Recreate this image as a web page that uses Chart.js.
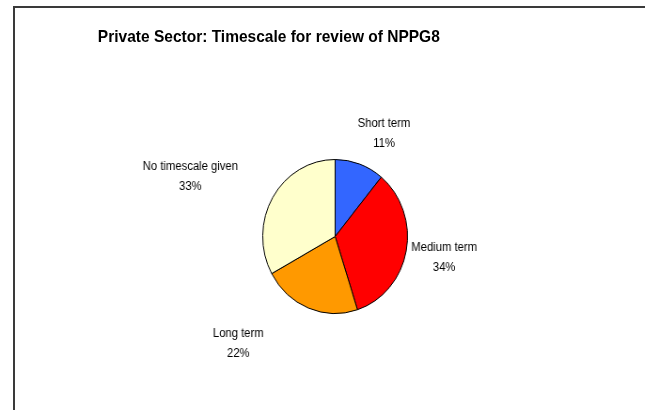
<!DOCTYPE html>
<html>
<head>
<meta charset="utf-8">
<script src="https://cdn.jsdelivr.net/npm/chart.js@4.4.1/dist/chart.umd.min.js"></script>
<style>
  body { margin: 0; background: #fff; }
  #wrap { position: relative; width: 645px; height: 410px; overflow: hidden; }
  #frame { position: absolute; left: 13px; top: 6px; width: 700px; height: 500px; border: 2px solid #3a3a3a; box-sizing: border-box; }
  /* the original chart is a little squeezed sideways, so draw wider and compress */
  #squeeze { position: absolute; left: 0; top: 0; width: 686px; height: 410px; transform: scaleX(0.94); transform-origin: 0 0; }
  #title { position: absolute; left: 0; top: 27px; width: 572px; text-align: center;
           font: bold 16.5px "Liberation Sans", Arial, sans-serif; color: #000; }
  canvas { position: absolute; left: 0; top: 0; }
</style>
</head>
<body>
<div id="wrap">
  <div id="frame"></div>
  <div id="squeeze">
    <div id="title">Private Sector: Timescale for review of NPPG8</div>
    <canvas id="myChart" width="686" height="410"></canvas>
  </div>
</div>
<script>
let categorias = ["Short term", "Medium term", "Long term", "No timescale given"];
let valores = [11, 34, 22, 33];
let colores = ["#3366FF", "#FF0000", "#FF9900", "#FFFFCC"];

// where each label sits, relative to the pie centre
let labelOffsets = [[52, -103], [116, 21], [-103, 107], [-154, -60]];

let pieLabels = {
    id: "pieLabels",
    afterDatasetsDraw(chart) {
        let ctx = chart.ctx;
        let arcs = chart.getDatasetMeta(0).data;
        ctx.save();
        ctx.font = "12px 'Liberation Sans', Arial, sans-serif";
        ctx.fillStyle = "#000";
        ctx.textAlign = "center";
        ctx.textBaseline = "middle";
        arcs.forEach((arc, i) => {
            let x = arc.x + labelOffsets[i][0];
            let y = arc.y + labelOffsets[i][1];
            ctx.fillText(categorias[i], x, y - 10);
            ctx.fillText(valores[i] + "%", x, y + 10);
        });
        ctx.restore();
    }
};

let ctx = document.querySelector("#myChart");
let myChart = new Chart(ctx, {
    type: "pie",
    data: {
        labels: categorias,
        datasets: [{
            data: valores,
            backgroundColor: colores,
            borderColor: "#000",
            borderWidth: 1
        }]
    },
    options: {
        responsive: false,
        animation: false,
        layout: { padding: { left: 279, right: 252, top: 159, bottom: 96 } },
        plugins: {
            legend: { display: false },
            tooltip: { enabled: false }
        }
    },
    plugins: [pieLabels]
});
</script>
</body>
</html>
